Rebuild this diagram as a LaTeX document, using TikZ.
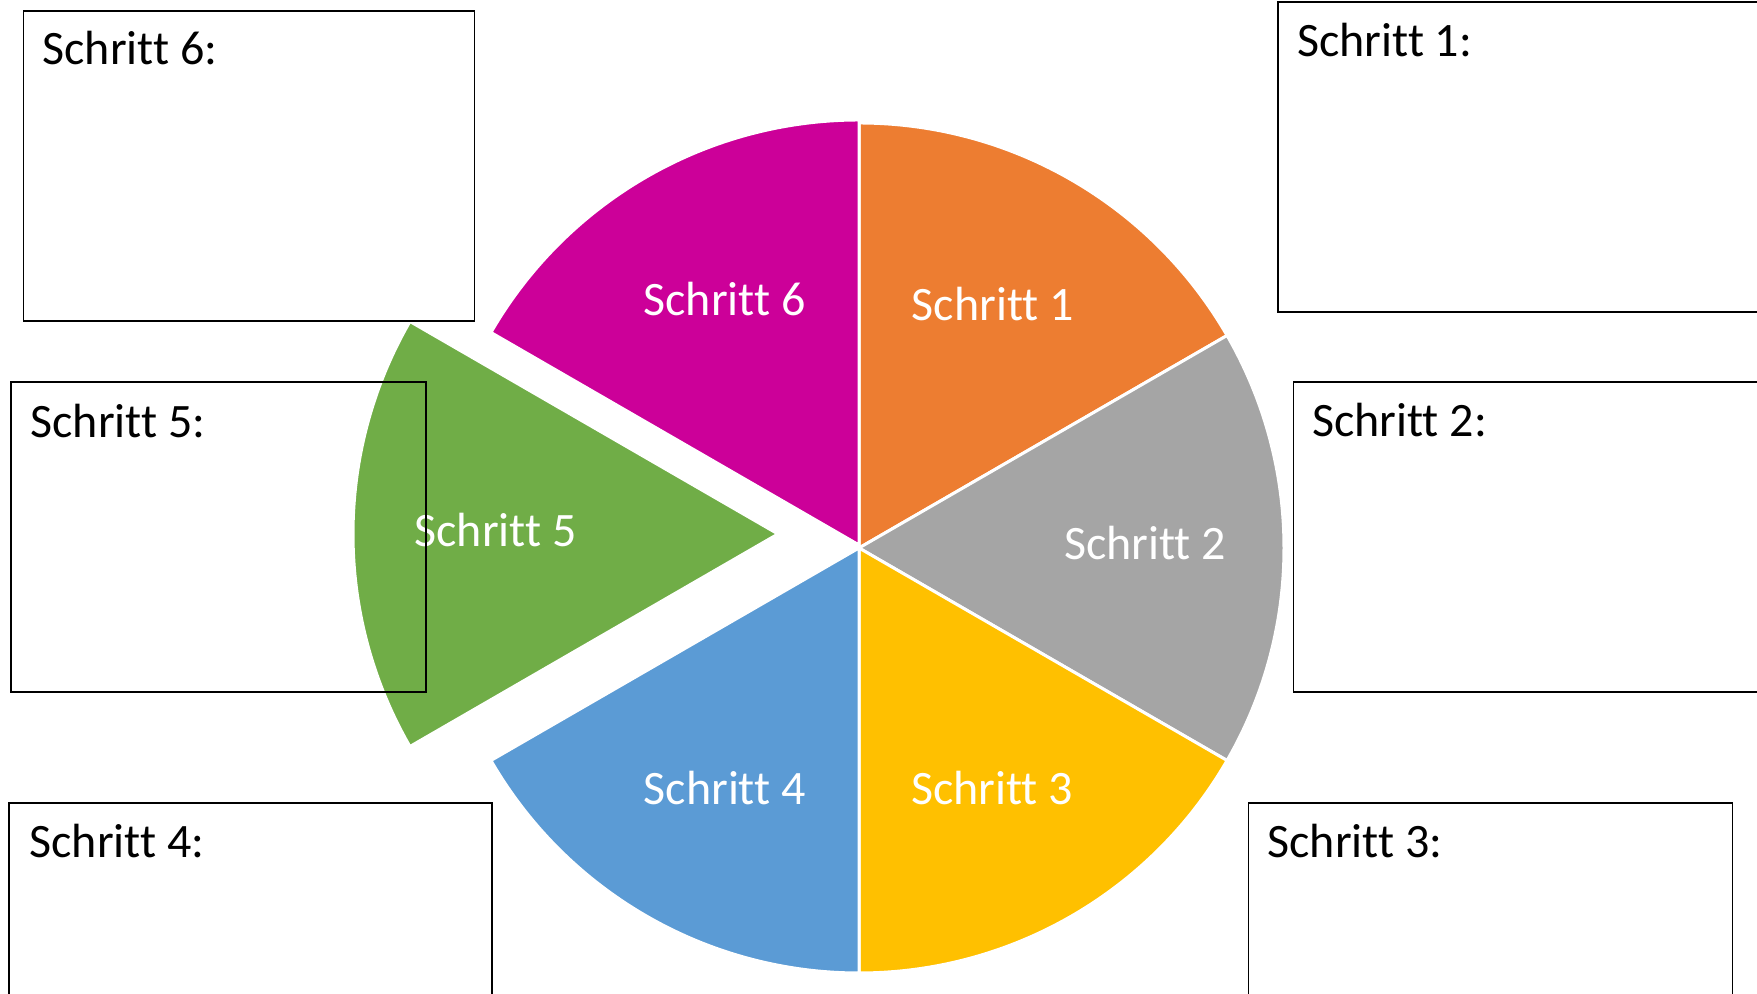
\documentclass[tikz,border=0pt]{standalone}
\usepackage{fontspec}
\setmainfont[Ligatures=NoCommon]{Carlito}
\definecolor{stepone}{HTML}{ED7D31}
\definecolor{steptwo}{HTML}{A5A5A5}
\definecolor{stepthree}{HTML}{FFC000}
\definecolor{stepfour}{HTML}{5B9BD5}
\definecolor{stepfive}{HTML}{70AD47}
\definecolor{stepsix}{HTML}{CC0099}
\begin{document}
\begin{tikzpicture}[x=0.5pt, y=0.5pt,
    slice/.style={draw=white, line width=1.5pt, line join=round},
    stepbox/.style={draw=black, line width=0.9pt},
    slicelabel/.style={text=white, inner sep=0pt, anchor=base,
        font=\fontsize{24}{28}\selectfont},
    boxlabel/.style={text=black, inner sep=0pt, anchor=base west,
        font=\fontsize{24}{28}\selectfont}
]
    \clip (0,0) rectangle (1757,994);
    \fill[white] (0,0) rectangle (1757,994);
    \coordinate (mid) at (859,446);
    \coordinate (midsix) at (859,449);
    \coordinate (midfive) at (778,460);
    % pie
    \fill[stepone, slice] (mid) -- ++(90:425) arc[start angle=90, end angle=30, radius=425] -- cycle;
    \fill[steptwo, slice] (mid) -- ++(30:425) arc[start angle=30, end angle=-30, radius=425] -- cycle;
    \fill[stepthree, slice] (mid) -- ++(-30:425) arc[start angle=-30, end angle=-90, radius=425] -- cycle;
    \fill[stepfour, slice] (mid) -- ++(-90:425) arc[start angle=-90, end angle=-150, radius=425] -- cycle;
    \fill[stepfive, slice] (midfive) -- ++(150:425) arc[start angle=150, end angle=210, radius=425] -- cycle;
    \fill[stepsix, slice] (midsix) -- ++(90:425) arc[start angle=90, end angle=150, radius=425] -- cycle;
    \node[slicelabel] (lab1) at (992.8,673.3) {Schritt 1};
    \node[slicelabel] (lab2) at (1145,434) {Schritt 2};
    \node[slicelabel] (lab3) at (992.2,189) {Schritt 3};
    \node[slicelabel] (lab4) at (724.7,189) {Schritt 4};
    \node[slicelabel] (lab5) at (495.5,447.3) {Schritt 5};
    \node[slicelabel] (lab6) at (724.5,678) {Schritt 6};
    % boxes
    \draw[stepbox] (1278,992.3) rectangle (1800,682.3);
    \draw[stepbox] (1293.4,612) rectangle (1800,301.7);
    \draw[stepbox] (1248.5,191.3) rectangle (1732.5,-60);
    \draw[stepbox] (9,191.3) rectangle (492.3,-60);
    \draw[stepbox] (11,611.7) rectangle (426,302.3);
    \draw[stepbox] (23.4,983.3) rectangle (474.5,673.3);
    \node[boxlabel] (box1) at (1297,937.3) {Schritt 1:};
    \node[boxlabel] (box2) at (1311.7,557.3) {Schritt 2:};
    \node[boxlabel] (box3) at (1267.2,136.3) {Schritt 3:};
    \node[boxlabel] (box4) at (29.2,136.3) {Schritt 4:};
    \node[boxlabel] (box5) at (30.2,556.3) {Schritt 5:};
    \node[boxlabel] (box6) at (42.2,929) {Schritt 6:};
\end{tikzpicture}
\end{document}
